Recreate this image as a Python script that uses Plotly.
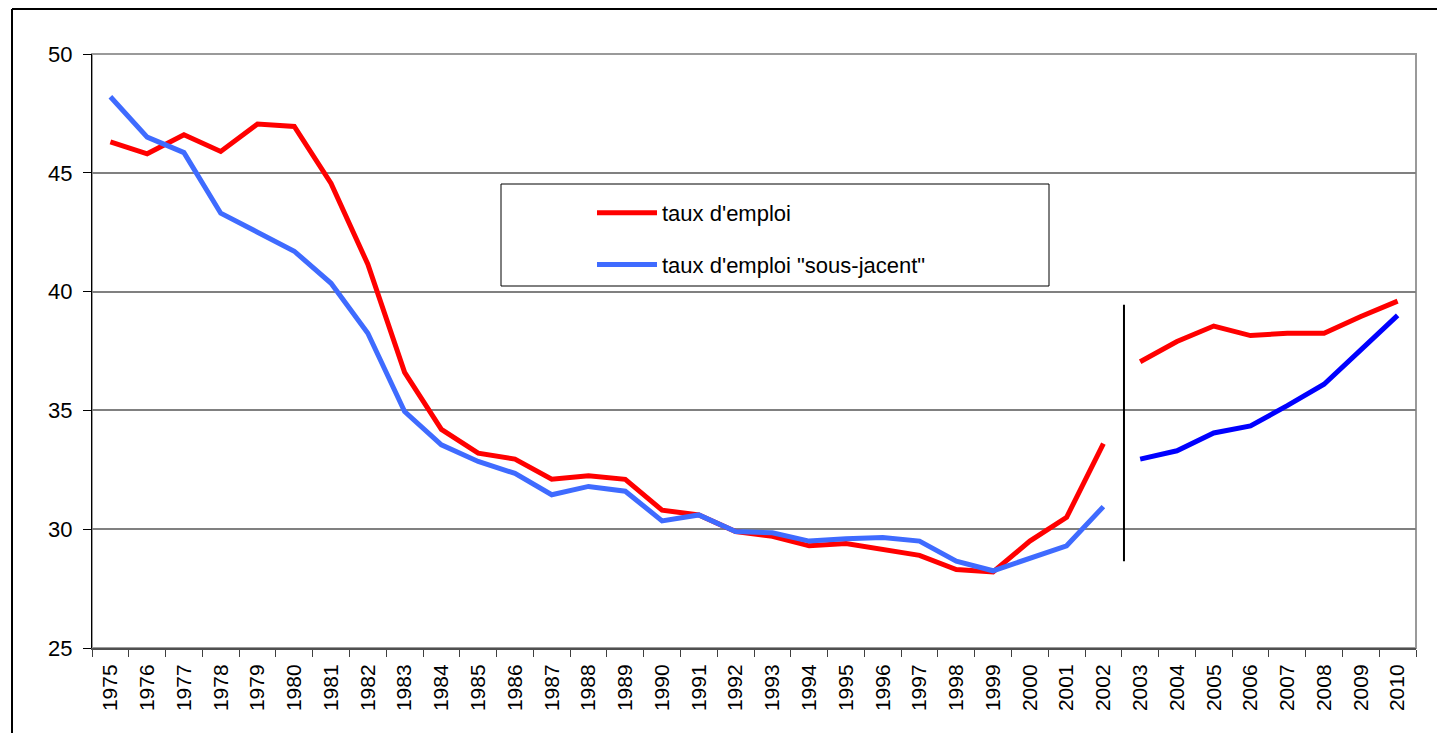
import plotly.graph_objects as go

years = [str(y) for y in range(1975, 2011)]
years_a = years[:28]   # 1975-2002
years_b = years[28:]   # 2003-2010

taux_emploi_a = [46.3, 45.8, 46.6, 45.9, 47.05, 46.95, 44.55, 41.15, 36.6, 34.2,
                 33.2, 32.95, 32.1, 32.25, 32.1, 30.8, 30.6, 29.9, 29.7, 29.3,
                 29.4, 29.15, 28.9, 28.3, 28.2, 29.5, 30.5, 33.6]
taux_emploi_b = [37.05, 37.9, 38.55, 38.15, 38.25, 38.25, 38.95, 39.6]

sous_jacent_a = [48.2, 46.5, 45.85, 43.3, 42.5, 41.7, 40.35, 38.25, 34.95, 33.55,
                 32.85, 32.35, 31.45, 31.8, 31.6, 30.35, 30.6, 29.9, 29.85, 29.5,
                 29.6, 29.65, 29.5, 28.65, 28.25, 28.8, 29.3, 30.95]
sous_jacent_b = [32.95, 33.3, 34.05, 34.35, 35.2, 36.1, 37.55, 39.0]

y_ticks = [25, 30, 35, 40, 45, 50]

FONT = "Liberation Sans, Arial, sans-serif"
RED = "#FF0000"
BLUE_A = "#3F6BFF"
BLUE_B = "#0000FF"

fig = go.Figure()
fig.add_trace(go.Scatter(x=years_a, y=taux_emploi_a, mode="lines",
                         name="taux d'emploi", legendgroup="g1",
                         line=dict(color=RED, width=5)))
fig.add_trace(go.Scatter(x=years_a, y=sous_jacent_a, mode="lines",
                         name='taux d\'emploi "sous-jacent"', legendgroup="g2",
                         line=dict(color=BLUE_A, width=5)))
fig.add_trace(go.Scatter(x=years_b, y=taux_emploi_b, mode="lines",
                         showlegend=False, legendgroup="g1",
                         line=dict(color=RED, width=5)))
fig.add_trace(go.Scatter(x=years_b, y=sous_jacent_b, mode="lines",
                         showlegend=False, legendgroup="g2",
                         line=dict(color=BLUE_B, width=5)))

# the page body has an 8px margin: the figure starts at page pixel (8, 8)
OFF = 8
W, H = 1447 - OFF, 733 - OFF
L, T = 92 - OFF, 54 - OFF
R = (1447 - OFF) - (1416 - OFF)   # right edge of plot at page x=1416
B = 85
pw, ph = W - L - R, H - T - B

def px(x):
    # page pixel x -> paper coordinate
    return (x - OFF - L) / pw

def py(y):
    # page pixel y -> paper coordinate
    return (T + ph - (y - OFF)) / ph

shapes = [
    # plot area border (gray)
    dict(type="rect", xref="paper", yref="paper", x0=0, x1=1, y0=0, y1=1,
         line=dict(color="#9A9A9A", width=2), layer="below"),
    # separator line between 2002 and 2003
    dict(type="line", xref="x", yref="y", x0=27.56, x1=27.56, y0=28.65, y1=39.45,
         line=dict(color="black", width=2)),
    # legend box
    dict(type="rect", xref="paper", yref="paper",
         x0=px(501), x1=px(1049), y0=py(286), y1=py(184),
         line=dict(color="black", width=1)),
    # outer frame (top and left)
    dict(type="line", xref="paper", yref="paper",
         x0=px(12), x1=px(1437), y0=py(9), y1=py(9),
         line=dict(color="black", width=2)),
    dict(type="line", xref="paper", yref="paper",
         x0=px(12), x1=px(12), y0=py(9), y1=py(740),
         line=dict(color="black", width=2)),
]

fig.update_layout(
    width=W, height=H, autosize=False,
    margin=dict(l=L, r=R, t=T, b=B),
    paper_bgcolor="white", plot_bgcolor="white",
    font=dict(family=FONT, color="black"),
    showlegend=True,
    legend=dict(x=px(592), y=py(192), xanchor="left", yanchor="top",
                bgcolor="rgba(0,0,0,0)", borderwidth=0,
                font=dict(family=FONT, size=22, color="black"),
                traceorder="grouped", tracegroupgap=20, itemwidth=60),
    shapes=shapes,
    xaxis=dict(type="category", categoryorder="array", categoryarray=years,
               tickmode="array", tickvals=years, ticktext=years,
               tickangle=-90, tickfont=dict(size=21, family=FONT),
               ticks="outside", ticklen=7, tickcolor="#404040", tickwidth=1,
               tickson="boundaries", ticklabelstandoff=6,
               showline=True, linecolor="#505050", linewidth=2,
               showgrid=False, zeroline=False,
               range=[-0.5, 35.5]),
    yaxis=dict(range=[25, 50], tickvals=y_ticks,
               tickfont=dict(size=22, family=FONT),
               ticks="outside", ticklen=8, tickcolor="black", tickwidth=1,
               showline=True, linecolor="black", linewidth=1,
               showgrid=True, gridcolor="#808080", gridwidth=1.5,
               zeroline=False, ticklabelstandoff=6),
)

fig.write_html("out.html")
